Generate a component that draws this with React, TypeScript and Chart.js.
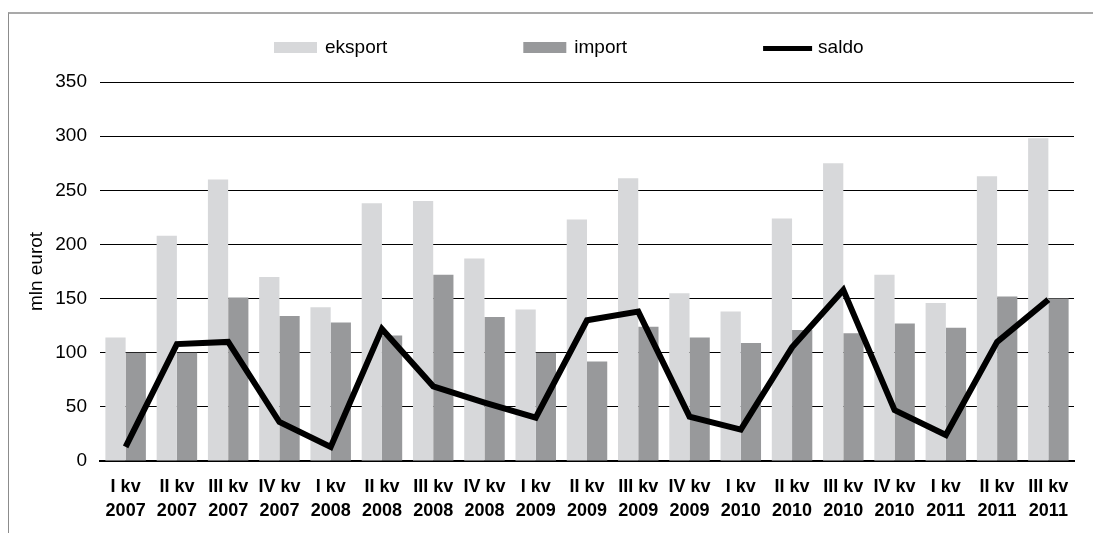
import React, { useEffect, useRef } from "react";
import { Chart, registerables } from "chart.js";

Chart.register(...registerables);

const quarters = ["I kv", "II kv", "III kv", "IV kv", "I kv", "II kv", "III kv", "IV kv", "I kv", "II kv", "III kv", "IV kv", "I kv", "II kv", "III kv", "IV kv", "I kv", "II kv", "III kv"];
const years = ["2007", "2007", "2007", "2007", "2008", "2008", "2008", "2008", "2009", "2009", "2009", "2009", "2010", "2010", "2010", "2010", "2011", "2011", "2011"];

const eksport = [114, 208, 260, 170, 142, 238, 240, 187, 140, 223, 261, 155, 138, 224, 275, 172, 146, 263, 298];
const importValues = [100, 100, 151, 134, 128, 116, 172, 133, 100, 92, 124, 114, 109, 121, 118, 127, 123, 152, 150];
const saldo = [13, 108, 110, 36, 13, 122, 69, 54, 40, 130, 138, 41, 29, 105, 158, 47, 24, 110, 149];

const yTicks = [0, 50, 100, 150, 200, 250, 300, 350];

const FONT = '"Liberation Sans", Arial, Helvetica, sans-serif';

const legendPlugin = {
  id: "customLegend",
  afterDraw(chart: any) {
    const ctx = chart.ctx;
    const left = chart.chartArea.left;
    const y = 33.5;
    let x = left + 174;
    ctx.save();
    ctx.font = `19px ${FONT}`;
    ctx.textBaseline = "middle";
    ctx.textAlign = "left";
    chart.data.datasets.forEach((ds: any) => {
      if (ds.type === "line") {
        ctx.strokeStyle = ds.borderColor;
        ctx.lineWidth = 5;
        ctx.beginPath();
        ctx.moveTo(x, y + 1);
        ctx.lineTo(x + 49, y + 1);
        ctx.stroke();
        x += 49 + 6;
      } else {
        ctx.fillStyle = ds.backgroundColor;
        ctx.fillRect(x, y - 5.5, 43, 11);
        x += 43 + 8;
      }
      ctx.fillStyle = "#000";
      ctx.fillText(ds.label, x, y);
      x += ctx.measureText(ds.label).width + 136;
    });
    ctx.restore();
  },
};

export default function App() {
  const canvasRef = useRef<HTMLCanvasElement | null>(null);

  useEffect(() => {
    if (!canvasRef.current) return;
    const labels = quarters.map((q, i) => [q, years[i]]);
    const chart = new Chart(canvasRef.current, {
      type: "bar",
      data: {
        labels,
        datasets: [
          {
            type: "bar",
            label: "eksport",
            data: eksport,
            backgroundColor: "#d7d8da",
            categoryPercentage: 0.79,
            barPercentage: 1.0,
            order: 1,
          },
          {
            type: "bar",
            label: "import",
            data: importValues,
            backgroundColor: "#98999b",
            categoryPercentage: 0.79,
            barPercentage: 1.0,
            order: 1,
          },
          {
            type: "line",
            label: "saldo",
            data: saldo,
            borderColor: "#000000",
            backgroundColor: "#000000",
            borderWidth: 6,
            borderJoinStyle: "miter",
            pointRadius: 0,
            tension: 0,
            fill: false,
            order: 0,
          },
        ] as any,
      },
      options: {
        responsive: false,
        animation: false,
        devicePixelRatio: 1,
        layout: { padding: { top: 68, right: 19, bottom: 0, left: 0 } },
        plugins: {
          legend: { display: false },
          tooltip: { enabled: false },
        },
        scales: {
          x: {
            grid: { display: false, drawTicks: false },
            border: { display: true, color: "#000", width: 2 },
            ticks: {
              color: "#000",
              padding: 14,
              maxRotation: 0,
              autoSkip: false,
              font: { family: FONT, size: 18, weight: "bold", lineHeight: 1.33 },
            },
            afterFit: (scale: any) => {
              scale.height = 72;
            },
          },
          y: {
            min: 0,
            max: 350,
            afterBuildTicks: (scale: any) => {
              scale.ticks = yTicks.map((v) => ({ value: v }));
            },
            grid: { color: "#000", lineWidth: 1, drawTicks: false },
            border: { display: false },
            ticks: {
              color: "#000",
              padding: 13,
              font: { family: FONT, size: 19 },
            },
            title: {
              display: true,
              text: "mln eurot",
              color: "#000",
              font: { family: FONT, size: 19, lineHeight: 1.2 },
              padding: { top: 15, bottom: 0 },
            },
            afterFit: (scale: any) => {
              scale.width = 90;
            },
          },
        },
      } as any,
      plugins: [legendPlugin],
    });
    return () => chart.destroy();
  }, []);

  return (
    <div style={{ position: "fixed", left: 0, top: 0, width: 1093, height: 533, overflow: "hidden", background: "#fff" }}>
      <div
        style={{
          position: "absolute",
          left: 8,
          top: 12,
          width: 1100,
          height: 540,
          borderTop: "2px solid #a9a9a9",
          borderLeft: "1px solid #8c8c8c",
          boxSizing: "border-box",
        }}
      />
      <canvas
        ref={canvasRef}
        width={1083}
        height={519}
        style={{ position: "absolute", left: 10, top: 14, width: 1083, height: 519 }}
      />
    </div>
  );
}
